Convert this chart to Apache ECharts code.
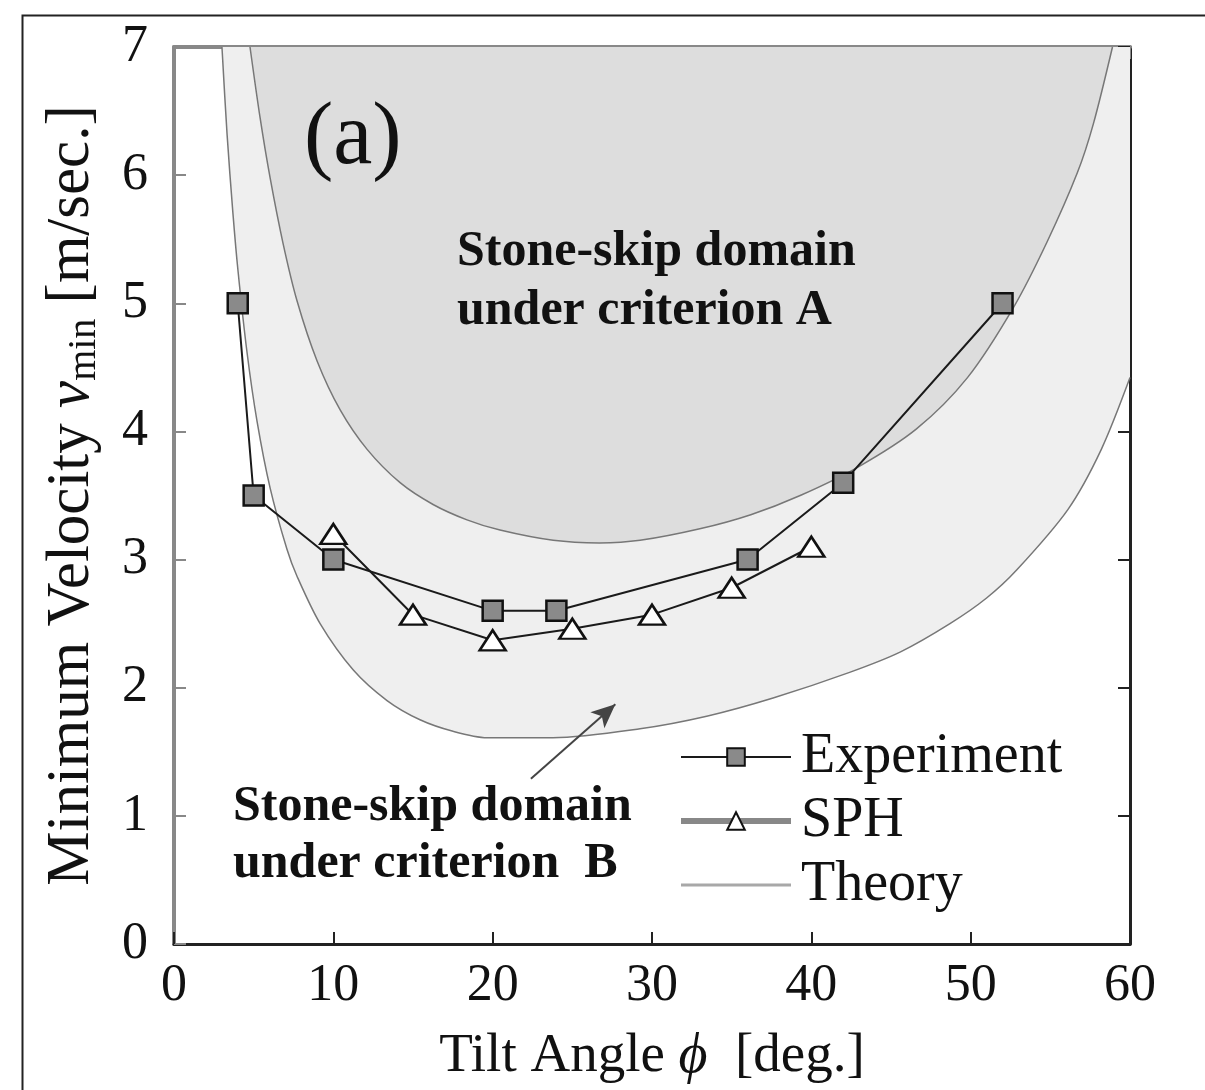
<!DOCTYPE html>
<html>
<head>
<meta charset="utf-8">
<script src="https://cdn.jsdelivr.net/npm/echarts@6/dist/echarts.min.js"></script>
<style>
  html, body { margin: 0; padding: 0; background: #fff; }
  #main { width: 1205px; height: 1090px; }
</style>
</head>
<body>
<div id="main"></div>
<script>
// measured points [tilt angle, min velocity]
var experiment = [[4, 5], [5, 3.5], [10, 3], [20, 2.6], [24, 2.6], [36, 3], [42, 3.6], [52, 5]];
var sph = [[10, 3.2], [15, 2.57], [20, 2.37], [25, 2.46], [30, 2.57], [35, 2.78], [40, 3.1]];

// theory curves
var theoryA = [[4.77, 7], [5.4, 6.45], [6.03, 5.98], [6.84, 5.47], [7.72, 5.02], [8.98, 4.55], [10.42, 4.17],
  [12.12, 3.86], [14.19, 3.6], [16.26, 3.43], [18.39, 3.31], [20.46, 3.23], [23.8, 3.15], [26.7, 3.13],
  [29.25, 3.15], [33, 3.24], [36.2, 3.35], [39.3, 3.5], [42.9, 3.72], [46.6, 4.02], [49.8, 4.42],
  [52.7, 4.97], [54.8, 5.48], [56.7, 6.02], [57.7, 6.4], [58.9, 7]];
var theoryB = [[3.01, 7], [3.33, 6.32], [3.7, 5.7], [4.02, 5.25], [4.58, 4.62], [5.21, 4.08], [6.03, 3.56],
  [7.09, 3.08], [7.72, 2.87], [9.17, 2.5], [11.24, 2.14], [13.37, 1.9], [15.44, 1.75], [17.51, 1.66],
  [19.65, 1.61], [23.79, 1.61], [29.25, 1.68], [33.5, 1.78], [37.6, 1.92], [42.4, 2.12], [45.6, 2.28],
  [48.7, 2.5], [51, 2.7], [52.9, 2.92], [56.1, 3.39], [58.2, 3.86], [60, 4.42]];

var xTicks = { min: 0, max: 60, interval: 10 };
var yTicks = { min: 0, max: 7, interval: 1 };

var serif = '"Liberation Serif", "DejaVu Serif", serif';

var myChart = echarts.init(document.getElementById('main'));

function frameAxis(col, w, showLabel, margin) {
  return {
    axisLine: { show: true, onZero: false, lineStyle: { color: col, width: w } },
    axisTick: { show: true, inside: true, length: 12, lineStyle: { color: col, width: 2 } },
    axisLabel: { show: showLabel, color: '#111', fontFamily: serif, fontSize: 52, margin: margin },
    splitLine: { show: false }
  };
}

var option = {
  animation: false,
  backgroundColor: '#fff',
  grid: { left: 174, top: 47, right: 75, bottom: 145, containLabel: false },
  xAxis: [
    Object.assign({
      type: 'value', position: 'bottom', min: xTicks.min, max: xTicks.max, interval: xTicks.interval,
      name: 'Tilt Angle {phi|ϕ}  [deg.]', nameLocation: 'middle', nameGap: 85,
      nameTextStyle: {
        color: '#111', fontFamily: serif, fontSize: 55,
        rich: { phi: { fontFamily: serif, fontSize: 56, fontStyle: 'italic', color: '#111' } }
      }
    }, frameAxis('#222', 3, true, 16)),
    Object.assign({
      type: 'value', position: 'top', min: xTicks.min, max: xTicks.max, interval: xTicks.interval
    }, frameAxis('#888', 4, false, 8))
  ],
  yAxis: [
    Object.assign({
      type: 'value', position: 'left', min: yTicks.min, max: yTicks.max, interval: yTicks.interval,
      name: 'Minimum Velocity {v|v}{sub|min} [m/sec.]', nameLocation: 'middle', nameGap: 70,
      nameTextStyle: {
        color: '#111', fontFamily: serif, fontSize: 61,
        rich: {
          v: { fontFamily: serif, fontSize: 61, fontStyle: 'italic', color: '#111' },
          sub: { fontFamily: serif, fontSize: 40, color: '#111', padding: [24, 0, 0, 0] }
        }
      }
    }, frameAxis('#888', 4, true, 26)),
    Object.assign({
      type: 'value', position: 'right', min: yTicks.min, max: yTicks.max, interval: yTicks.interval
    }, frameAxis('#222', 3, false, 8))
  ],
  legend: {
    orient: 'vertical', left: 673, top: 724,
    itemWidth: 110, itemHeight: 22, itemGap: 8,
    textStyle: { color: '#111', fontFamily: serif, fontSize: 56, lineHeight: 55, padding: [0, 0, 0, 5] },
    data: [
      { name: 'Experiment' },
      { name: 'SPH', lineStyle: { color: '#888', width: 6 } },
      { name: 'Theory', lineStyle: { color: '#a8a8a8', width: 3 }, itemStyle: { opacity: 0 } }
    ]
  },
  graphic: [
    { type: 'rect', left: 20, top: 13, shape: { width: 1200, height: 1100 },
      style: { fill: 'none', stroke: '#222', lineWidth: 2 }, silent: true },
    { type: 'text', left: 304, top: 96, z: 100,
      style: { text: '(a)', font: '88px ' + serif, fill: '#111' } },
    { type: 'text', left: 457, top: 223, z: 100,
      style: { text: 'Stone-skip domain\nunder criterion A', font: 'bold 50px ' + serif, lineHeight: 59, fill: '#111' } },
    { type: 'text', left: 233, top: 779, z: 100,
      style: { text: 'Stone-skip domain\nunder criterion  B', font: 'bold 50px ' + serif, lineHeight: 57, fill: '#111' } }
  ],
  series: [
    {
      name: 'Theory', type: 'line', data: theoryB, smooth: 0.3, symbol: 'none', z: 1,
      itemStyle: { color: '#777' },
      lineStyle: { color: '#777', width: 1.5 },
      areaStyle: { color: '#efefef', opacity: 1, origin: 'end' }
    },
    {
      name: 'Theory', type: 'line', data: theoryA, smooth: 0.3, symbol: 'none', z: 2,
      itemStyle: { color: '#777' },
      lineStyle: { color: '#777', width: 1.5 },
      areaStyle: { color: '#dddddd', opacity: 1, origin: 'end' }
    },
    {
      name: 'Experiment', type: 'line', data: experiment, z: 5,
      symbol: 'rect', symbolSize: 20,
      itemStyle: { color: '#8a8a8a', borderColor: '#111', borderWidth: 2.5 },
      lineStyle: { color: '#1a1a1a', width: 2 },
      markLine: {
        silent: true, symbol: ['none', 'arrow'], symbolSize: [16, 24],
        itemStyle: { color: '#222' },
        lineStyle: { color: '#444', width: 2, type: 'solid' },
        label: { show: false },
        data: [[{ coord: [22.4, 1.29] }, { coord: [27.7, 1.87] }]]
      }
    },
    {
      name: 'SPH', type: 'line', data: sph, z: 6,
      symbol: 'triangle', symbolSize: [26, 20],
      itemStyle: { color: '#fff', borderColor: '#111', borderWidth: 2.5 },
      lineStyle: { color: '#1a1a1a', width: 2 }
    }
  ]
};
myChart.setOption(option);
</script>
</body>
</html>
